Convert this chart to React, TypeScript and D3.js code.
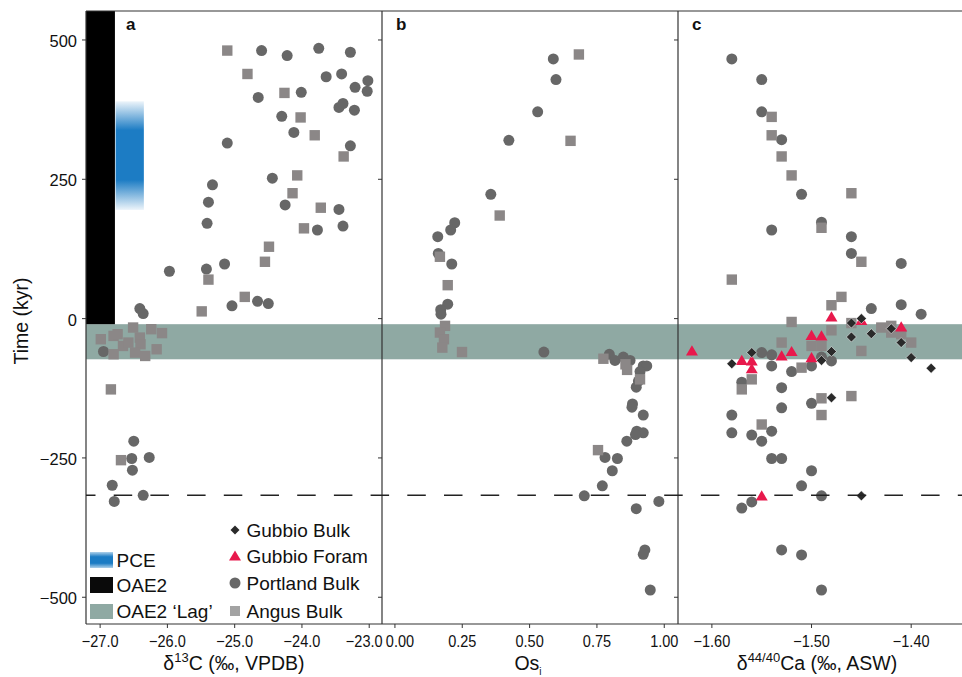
import React from "react";
import * as d3 from "d3";

// axis ticks
const timeTicks = [500, 250, 0, -250, -500];
const c13Ticks = [-27, -26, -25, -24, -23];
const osTicks = [0, 0.25, 0.5, 0.75, 1];
const caTicks = [-1.6, -1.5, -1.4];

// event intervals (kyr)
const oae2Base = -10;
const lagBand = [-73, -10];
const pceBand = [195, 390];
const pceCore = [249, 338];
const dashedTime = -317;

// panel a: d13C vs time
const c13Portland = [
  [-24.6, 481], [-24.22, 472], [-23.75, 485], [-23.28, 478], [-23.64, 434], [-23.41, 439],
  [-23.21, 415], [-23.02, 427], [-23.03, 408], [-24.65, 397], [-24.01, 406], [-23.45, 379],
  [-23.39, 386], [-23.22, 374], [-24.3, 363], [-24.12, 334], [-25.11, 315], [-23.28, 310],
  [-24.44, 252], [-25.33, 240], [-25.39, 209], [-24.25, 204], [-23.45, 196], [-25.41, 171],
  [-23.39, 166], [-23.77, 159], [-25.97, 85], [-25.42, 89], [-25.15, 98], [-25.04, 23],
  [-24.66, 31], [-24.5, 27], [-26.41, 18], [-26.36, 9], [-26.95, -59], [-26.5, -220],
  [-26.53, -251], [-26.27, -249], [-26.52, -272], [-26.82, -299], [-26.79, -328], [-26.36, -317],
];
const c13Angus = [
  [-25.11, 481], [-24.81, 439], [-24.26, 405], [-24.02, 361], [-23.81, 329], [-23.38, 291],
  [-24.07, 257], [-24.14, 225], [-23.72, 199], [-23.97, 162], [-24.49, 129], [-24.55, 102],
  [-25.39, 70], [-24.85, 39], [-25.49, 13], [-26.99, -37], [-26.8, -31], [-26.74, -28],
  [-26.51, -16], [-26.24, -19], [-26.08, -26], [-26.66, -49], [-26.58, -43], [-26.41, -34],
  [-26.4, -46], [-26.48, -61], [-26.33, -67], [-26.8, -64], [-26.16, -55], [-26.84, -127],
  [-26.69, -254],
];

// panel b: Os_i vs time
const osPortland = [
  [0.588, 466], [0.598, 429], [0.53, 371], [0.423, 320], [0.356, 223], [0.222, 172],
  [0.207, 159], [0.159, 147], [0.161, 117], [0.211, 98], [0.196, 26], [0.17, 16], [0.171, 8],
  [0.553, -60], [0.796, -64], [0.817, -75], [0.848, -69], [0.873, -75], [0.922, -85],
  [0.935, -85], [0.91, -95], [0.904, -112], [0.896, -123], [0.882, -153], [0.88, -159],
  [0.922, -173], [0.898, -202], [0.922, -205], [0.893, -208], [0.861, -220], [0.78, -249],
  [0.826, -251], [0.807, -273], [0.77, -300], [0.703, -318], [0.98, -328], [0.896, -341],
  [0.928, -415], [0.922, -423], [0.948, -487],
];
const osAngus = [
  [0.683, 474], [0.652, 319], [0.389, 185], [0.167, 111], [0.196, 60], [0.186, -13],
  [0.167, -25], [0.182, -37], [0.176, -52], [0.249, -60], [0.774, -72], [0.856, -82],
  [0.862, -92], [0.91, -109], [0.754, -236],
];

// panel c: d44/40Ca vs time
const caPortland = [
  [-1.58, 466], [-1.55, 429], [-1.55, 371], [-1.53, 321], [-1.51, 223], [-1.49, 173],
  [-1.54, 159], [-1.46, 147], [-1.46, 117], [-1.41, 99], [-1.44, 18], [-1.41, 25], [-1.39, 8],
  [-1.55, -61], [-1.54, -65], [-1.54, -85], [-1.57, -114], [-1.52, -95], [-1.5, -85],
  [-1.49, -69], [-1.48, -76], [-1.53, -124], [-1.53, -160], [-1.5, -152], [-1.58, -173],
  [-1.58, -205], [-1.56, -209], [-1.55, -220], [-1.54, -202], [-1.54, -251], [-1.53, -251],
  [-1.5, -273], [-1.51, -300], [-1.49, -318], [-1.56, -329], [-1.57, -340], [-1.53, -415],
  [-1.51, -424], [-1.49, -487],
];
const caAngus = [
  [-1.54, 362], [-1.54, 329], [-1.53, 291], [-1.52, 257], [-1.46, 225], [-1.49, 163],
  [-1.45, 102], [-1.58, 70], [-1.47, 39], [-1.48, 24], [-1.52, -6], [-1.48, -21],
  [-1.53, -43], [-1.5, -49], [-1.49, -49], [-1.46, -8], [-1.43, -16], [-1.42, -13],
  [-1.42, -25], [-1.41, -28], [-1.4, -43], [-1.45, -58], [-1.51, -88], [-1.56, -109],
  [-1.57, -127], [-1.49, -143], [-1.46, -139], [-1.49, -173], [-1.55, -190],
];
const caGubbioForam = [
  [-1.62, -58], [-1.57, -75], [-1.56, -76], [-1.56, -90], [-1.53, -67], [-1.52, -59],
  [-1.5, -30], [-1.49, -31], [-1.5, -70], [-1.48, 3], [-1.45, -3], [-1.41, -15], [-1.55, -318],
];
const caGubbioBulk = [
  [-1.58, -81], [-1.56, -61], [-1.49, -75], [-1.48, -59], [-1.46, -8], [-1.46, -33],
  [-1.45, 0], [-1.44, -27], [-1.42, -18], [-1.41, -43], [-1.4, -70], [-1.38, -89],
  [-1.48, -142], [-1.45, -318],
];

const FONT = "'Liberation Sans', Arial, Helvetica, sans-serif";
const W = 962;
const H = 677;
const TOP = 11;
const BOTTOM = 624;

const COL = {
  portland: "#676767",
  angus: "#8b8787",
  foram: "#e8194c",
  gbulk: "#2a2a2a",
  lag: "#8fa9a3",
  pce: "#1c7cc4",
  axis: "#333",
};

const triPath = "M0,-5.6L6,4.6L-6,4.6Z";
const diaPath = "M0,-5L5,0L0,5L-5,0Z";

const y = d3.scaleLinear().domain([-548, 552]).range([BOTTOM, TOP]);

const panels = [
  {
    id: "a", left: 86, right: 382, domain: [-27.21, -22.81], ticks: c13Ticks,
    fmt: d3.format(".1f"), portland: c13Portland, angus: c13Angus,
  },
  {
    id: "b", left: 382, right: 678, domain: [-0.048, 1.051], ticks: osTicks,
    fmt: d3.format(".2f"), portland: osPortland, angus: osAngus,
  },
  {
    id: "c", left: 678, right: 962, domain: [-1.634, -1.349], ticks: caTicks,
    fmt: d3.format(".2f"), portland: caPortland, angus: caAngus,
    foram: caGubbioForam, gbulk: caGubbioBulk,
  },
];

const titles = [
  (
    <text key="ta" x={234} y={670} textAnchor="middle" fontSize={19.5}>
      δ<tspan fontSize={13} dy={-8}>13</tspan><tspan dy={8}>C (‰, VPDB)</tspan>
    </text>
  ),
  (
    <text key="tb" x={528} y={670} textAnchor="middle" fontSize={19.5}>
      Os<tspan fontSize={10} dy={5}>i</tspan>
    </text>
  ),
  (
    <text key="tc" x={817} y={670} textAnchor="middle" fontSize={19.5}>
      δ<tspan fontSize={13} dy={-8}>44/40</tspan><tspan dy={8}>Ca (‰, ASW)</tspan>
    </text>
  ),
];

function Panel({ p }: { p: any }) {
  const x = d3.scaleLinear().domain(p.domain).range([p.left, p.right]);
  // the outer tick labels of neighbouring panels sit edge to edge; nudge them apart
  const nudge = (i: number) => {
    if (p.id === "a" && i === p.ticks.length - 1) return -5;
    if (p.id === "b" && i === 0) return 5;
    return 0;
  };
  return (
    <g>
      {/* OAE2 lag band */}
      <rect x={p.left} y={y(lagBand[1])} width={p.right - p.left}
        height={y(lagBand[0]) - y(lagBand[1])} fill={COL.lag} />
      {p.id === "a" && (
        <g>
          <rect x={p.left} y={TOP} width={x(-26.78) - p.left} height={y(oae2Base) - TOP} fill="#000" />
          <rect x={x(-26.77)} y={y(pceBand[1])} width={x(-26.35) - x(-26.77)}
            height={y(pceBand[0]) - y(pceBand[1])} fill="url(#pceGrad)" />
        </g>
      )}
      {p.portland.map((d: number[], i: number) => (
        <circle key={"p" + i} cx={x(d[0])} cy={y(d[1])} r={5.5} fill={COL.portland} />
      ))}
      {p.angus.map((d: number[], i: number) => (
        <rect key={"a" + i} x={x(d[0]) - 5.2} y={y(d[1]) - 5.2} width={10.4} height={10.4} fill={COL.angus} />
      ))}
      {p.foram && p.foram.map((d: number[], i: number) => (
        <path key={"f" + i} d={triPath} transform={`translate(${x(d[0])},${y(d[1])})`} fill={COL.foram} />
      ))}
      {p.gbulk && p.gbulk.map((d: number[], i: number) => (
        <path key={"g" + i} d={diaPath} transform={`translate(${x(d[0])},${y(d[1])})`}
          fill={COL.gbulk} stroke="#fff" strokeWidth={0.5} />
      ))}
      {/* left axis (ticks only, labels on panel a) */}
      <line x1={p.left} x2={p.left} y1={TOP} y2={BOTTOM} stroke={COL.axis} strokeWidth={1.2} />
      {timeTicks.map((t) => (
        <g key={t}>
          <line x1={p.left - 4} x2={p.left} y1={y(t)} y2={y(t)} stroke={COL.axis} strokeWidth={1} />
          {p.id === "a" && (
            <text x={p.left - 9} y={y(t) + 1} textAnchor="end" dominantBaseline="central" fontSize={16.5}>
              {d3.format("d")(t)}
            </text>
          )}
        </g>
      ))}
      {/* bottom axis */}
      <line x1={p.left} x2={p.right} y1={BOTTOM} y2={BOTTOM} stroke={COL.axis} strokeWidth={1.2} />
      {p.ticks.map((t: number, i: number) => (
        <g key={t}>
          <line x1={x(t)} x2={x(t)} y1={BOTTOM} y2={BOTTOM + 4} stroke={COL.axis} strokeWidth={1} />
          <text transform={`translate(${x(t) + nudge(i)},647) scale(0.88,1)`} textAnchor="middle" fontSize={16.5}>
            {p.fmt(t)}
          </text>
        </g>
      ))}
      <text x={p.left + (p.id === "a" ? 40 : 14)} y={29.5} fontSize={17} fontWeight="bold">{p.id}</text>
    </g>
  );
}

export default function App() {
  const legendRight = [
    { label: "Gubbio Bulk", kind: "gbulk", cy: 530 },
    { label: "Gubbio Foram", kind: "foram", cy: 556 },
    { label: "Portland Bulk", kind: "portland", cy: 583 },
    { label: "Angus Bulk", kind: "angus", cy: 611 },
  ];
  const legendLeft = [
    { label: "PCE", fill: "url(#pceLegend)", y0: 552, h: 16 },
    { label: "OAE2", fill: "#0a0a0a", y0: 577, h: 16 },
    { label: "OAE2 ‘Lag’", fill: COL.lag, y0: 604, h: 15 },
  ];
  return (
    <svg width={W} height={H} style={{ position: "absolute", left: 0, top: 0, background: "#fff" }}
      fontFamily={FONT} fill="#111">
      <defs>
        <linearGradient id="pceGrad" x1="0" x2="0" y1="0" y2="1">
          <stop offset="0%" stopColor={COL.pce} stopOpacity={0.08} />
          <stop offset={`${((pceBand[1] - pceCore[1]) / (pceBand[1] - pceBand[0])) * 100}%`} stopColor={COL.pce} stopOpacity={1} />
          <stop offset={`${((pceBand[1] - pceCore[0]) / (pceBand[1] - pceBand[0])) * 100}%`} stopColor={COL.pce} stopOpacity={1} />
          <stop offset="100%" stopColor={COL.pce} stopOpacity={0.08} />
        </linearGradient>
        <linearGradient id="pceLegend" x1="0" x2="0" y1="0" y2="1">
          <stop offset="0%" stopColor={COL.pce} stopOpacity={0.35} />
          <stop offset="30%" stopColor={COL.pce} stopOpacity={1} />
          <stop offset="70%" stopColor={COL.pce} stopOpacity={1} />
          <stop offset="100%" stopColor={COL.pce} stopOpacity={0.35} />
        </linearGradient>
      </defs>
      <rect x={0} y={0} width={W} height={H} fill="#fff" />
      {panels.map((p) => <Panel key={p.id} p={p} />)}
      {/* dashed reference line */}
      <line x1={86} x2={962} y1={y(dashedTime)} y2={y(dashedTime)} stroke="#222" strokeWidth={1.3}
        strokeDasharray="18.5,18.2" strokeDashoffset={9} />
      {/* top frame */}
      <line x1={86} x2={962} y1={TOP} y2={TOP} stroke={COL.axis} strokeWidth={1.2} />
      {titles}
      <text transform={`translate(28,321) rotate(-90)`} textAnchor="middle" fontSize={19.5}>Time (kyr)</text>
      {/* legend */}
      {legendLeft.map((l) => (
        <g key={l.label}>
          <rect x={90} y={l.y0} width={23} height={l.h} fill={l.fill} />
          <text x={116.5} y={l.y0 + l.h / 2} dominantBaseline="central" fontSize={19}>{l.label}</text>
        </g>
      ))}
      {legendRight.map((l) => (
        <g key={l.label}>
          {l.kind === "gbulk" && <path d={diaPath} transform={`translate(235,${l.cy}) scale(0.9)`} fill={COL.gbulk} />}
          {l.kind === "foram" && <path d={triPath} transform={`translate(235,${l.cy})`} fill={COL.foram} />}
          {l.kind === "portland" && <circle cx={235} cy={l.cy} r={5.5} fill={COL.portland} />}
          {l.kind === "angus" && <rect x={230} y={l.cy - 5} width={10} height={10} fill="#a3a3a3" />}
          <text x={246.5} y={l.cy} dominantBaseline="central" fontSize={19}>{l.label}</text>
        </g>
      ))}
    </svg>
  );
}
